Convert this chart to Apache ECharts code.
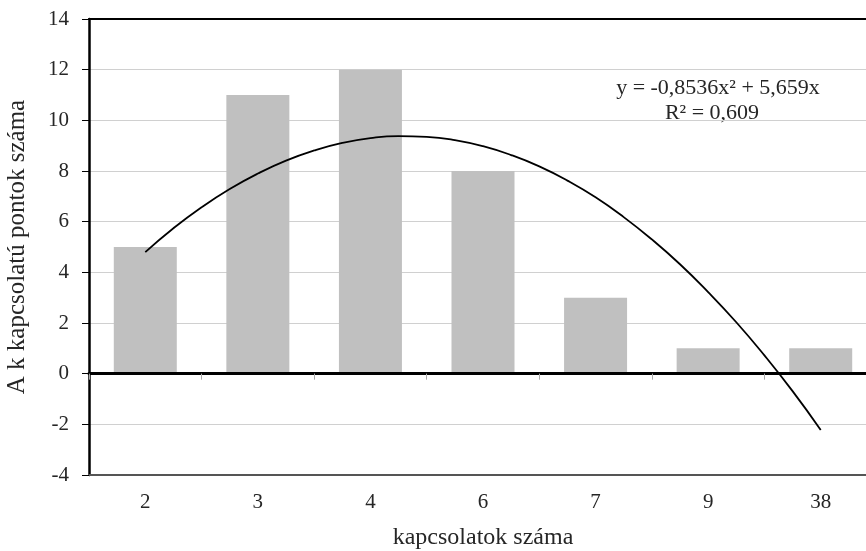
<!DOCTYPE html>
<html>
<head>
<meta charset="utf-8">
<script src="https://cdn.jsdelivr.net/npm/echarts@6/dist/echarts.min.js"></script>
<style>
  html, body { margin: 0; padding: 0; background: #fff; }
  #chart { width: 866px; height: 551px; }
</style>
</head>
<body>
<div id="chart"></div>
<script>
// kategóriák és értékek (leolvasva az ábráról)
const categories = ['2', '3', '4', '6', '7', '9', '38']
const counts = [5, 11, 12, 8, 3, 1, 1]
// trendvonal pontjai (x = kategória sorszáma, leolvasva)
const trendX = [1, 1.25, 1.5, 1.75, 2, 2.25, 2.5, 2.75, 3, 3.25, 3.5, 3.75, 4,
  4.25, 4.5, 4.75, 5, 5.25, 5.5, 5.75, 6, 6.25, 6.5, 6.75, 7]
const trendValues = [4.8, 5.74, 6.57, 7.29, 7.9, 8.41, 8.81, 9.11, 9.3, 9.38, 9.35, 9.22, 8.98,
  8.63, 8.18, 7.62, 6.96, 6.18, 5.3, 4.32, 3.22, 2.03, 0.72, -0.69, -2.22]
const yTicks = { min: -4, max: 14, interval: 2 }

const font = 'Liberation Serif'
const txt = '#262626'
const chart = echarts.init(document.getElementById('chart'))

const trendData = trendX.map((x, i) => [x, trendValues[i]])

const option = {
  animation: false,
  textStyle: { fontFamily: font },
  grid: { left: 89, top: 19, right: -11, bottom: 76, outerBoundsMode: 'none', containLabel: false },
  xAxis: [
    {
      // tengely a nullánál, osztásokkal
      type: 'category',
      data: categories,
      axisLine: { onZero: true, lineStyle: { color: '#000', width: 3 } },
      axisTick: { show: true, length: 6, lineStyle: { color: '#aaa', width: 1 } },
      axisLabel: { show: false },
      splitLine: { show: false },
      z: 5
    },
    {
      // alsó tengely feliratokkal
      type: 'category',
      data: categories,
      position: 'bottom',
      axisLine: { onZero: false, lineStyle: { color: '#555', width: 2 } },
      axisTick: { show: false },
      axisLabel: { color: txt, fontSize: 21, fontFamily: font, margin: 17 },
      name: 'kapcsolatok száma',
      nameLocation: 'middle',
      nameGap: 51,
      nameTextStyle: { color: txt, fontSize: 24, fontFamily: font }
    },
    {
      // felső keret
      type: 'category',
      data: categories,
      position: 'top',
      axisLine: { onZero: false, lineStyle: { color: '#000', width: 2 } },
      axisTick: { show: false },
      axisLabel: { show: false }
    },
    {
      // rejtett értéktengely a trendvonalhoz
      type: 'value',
      min: 0.5,
      max: 7.5,
      show: false
    }
  ],
  yAxis: {
    type: 'value',
    min: yTicks.min,
    max: yTicks.max,
    interval: yTicks.interval,
    name: 'A k kapcsolatú pontok száma',
    nameLocation: 'middle',
    nameGap: 59,
    nameTextStyle: { color: txt, fontSize: 25, fontFamily: font },
    axisLine: { show: true, onZero: false, lineStyle: { color: '#000', width: 2.5 } },
    axisTick: { show: true, length: 7, lineStyle: { color: '#000', width: 1 } },
    axisLabel: { color: txt, fontSize: 21, fontFamily: font, margin: 20 },
    splitLine: { show: true, lineStyle: { color: '#d0d0d0', width: 1 } }
  },
  series: [
    {
      type: 'bar',
      data: counts,
      barWidth: 63,
      itemStyle: { color: '#c0c0c0' },
      z: 2
    },
    {
      type: 'line',
      xAxisIndex: 3,
      data: trendData,
      smooth: true,
      symbol: 'none',
      lineStyle: { color: '#000', width: 1.8 },
      z: 6
    }
  ],
  graphic: [
    {
      type: 'text',
      x: 718,
      y: 88,
      style: { text: 'y = -0,8536x² + 5,659x', fontSize: 22, fontFamily: font, fill: txt, align: 'center', verticalAlign: 'middle' }
    },
    {
      type: 'text',
      x: 712,
      y: 113,
      style: { text: 'R² = 0,609', fontSize: 22, fontFamily: font, fill: txt, align: 'center', verticalAlign: 'middle' }
    }
  ]
}
chart.setOption(option)
window.addEventListener('resize', () => { chart.resize() })
</script>
</body>
</html>
